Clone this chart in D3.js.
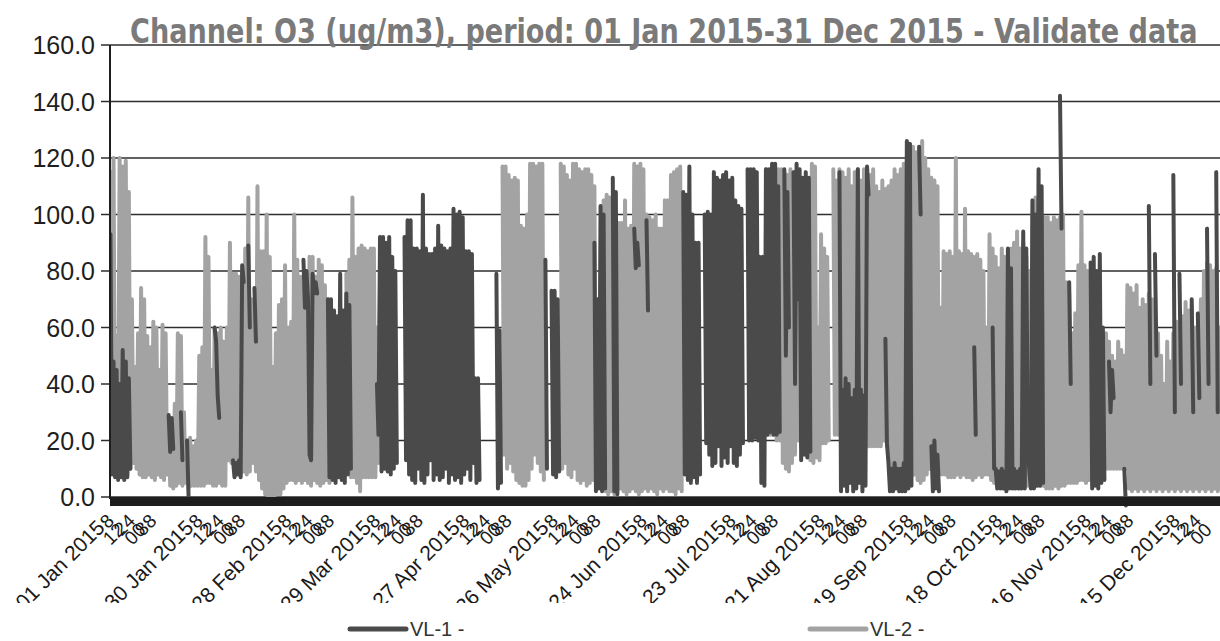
<!DOCTYPE html>
<html><head><meta charset="utf-8">
<script src="https://cdn.jsdelivr.net/npm/d3@7"></script>
<style>body{margin:0;background:#fff} svg{display:block}</style>
</head><body>
<svg id="c" width="1220" height="641"></svg>
<script>
const chartTitle = "Channel: O3 (ug/m3), period: 01 Jan 2015-31 Dec 2015 - Validate data";
const yTicks = [0, 20, 40, 60, 80, 100, 120, 140, 160];
const xTickLabels = ["01 Jan 2015","30 Jan 2015","28 Feb 2015","29 Mar 2015","27 Apr 2015","26 May 2015","24 Jun 2015","23 Jul 2015","21 Aug 2015","19 Sep 2015","18 Oct 2015","16 Nov 2015","15 Dec 2015"];
const subTickLabels = ["8","12","24","00","88"];
const seriesNames = ["VL-1 -", "VL-2 -"];
// [day of year (0 = 01 Jan), daily high, daily low]
const vl1 = [[0,93,8],[1,48,7],[2,45,6],[3,40,7],[4,52,6],[5,48,7],[6,42,10],
[19,29,16],[20,28,17],[23,30,13],[25,20,0],[34,60,55],[35,36,28],
[40,13,7],[41,12,8],[42,13,7],[43,82,76],[45,89,60],[47,74,55],
[63,84,67],[64,80,70],[65,15,13],[66,79,72],[67,76,72],
[71,70,7],[72,70,6],[73,66,5],[74,64,7],[75,79,6],[76,66,5],[77,72,8],[78,68,10],
[87,40,22],[88,92,9],[89,92,10],[90,90,9],[91,92,8],[92,85,10],[93,80,12],
[96,92,13],[97,98,8],[98,98,6],[99,88,5],[100,88,10],[101,87,6],[102,107,5],[103,88,8],[104,86,13],[105,86,6],[106,88,8],[107,96,6],[108,89,7],[109,88,10],[110,87,5],[111,88,8],[112,102,6],[113,100,7],[114,101,5],[115,99,8],[116,87,10],[117,87,6],[118,86,12],[119,42,5],[120,42,6],
[126,79,3],[127,59,5],
[142,84,10],[144,73,8],[145,73,7],[146,70,9],
[158,90,2],[159,70,3],[160,103,2],[161,100,3],
[164,113,2],[165,108,1],
[171,95,81],[172,90,82],[175,98,66],
[187,108,8],[188,107,6],[189,117,5],[190,100,7],[191,90,5],[192,90,8],
[194,100,19],[195,101,15],[196,100,11],[197,115,12],[198,113,18],[199,112,11],[200,114,14],[201,115,12],[202,112,18],[203,113,12],[204,105,11],[205,103,15],[206,102,19],
[208,116,20],[209,116,20],[210,116,21],[211,115,20],[212,85,5],[213,85,4],[214,116,22],[215,116,23],[216,118,22],[217,118,22],[218,110,23],
[220,116,50],[221,108,60],[223,115,40],[224,118,70],[225,116,13],[226,113,15],[227,115,14],[228,113,16],
[238,115,2],[239,38,4],[240,42,2],[241,40,5],[242,35,2],[243,38,3],[244,116,5],[245,38,2],[246,36,4],[247,117,107],
[253,56,19],[254,12,2],[255,10,2],[256,12,3],[257,10,2],[258,10,2],[259,12,2],[260,126,3],[261,125,4],
[264,124,100],[268,18,2],[269,20,3],[270,15,2],
[282,53,22],
[288,60,10],[289,10,3],[290,9,3],[291,10,3],[292,9,2],[293,88,3],[294,81,3],[295,10,3],[296,9,3],[297,10,3],[298,94,3],[299,88,19],[300,9,3],[301,105,3],[302,100,4],[303,116,4],[304,110,5],
[310,142,95],[313,76,40],
[320,83,3],[321,85,4],[322,80,3],[323,86,5],[324,60,6],
[326,48,30],[327,45,35],[331,10,-3],
[339,103,40],[341,86,50],[347,114,30],[349,79,40],[353,70,30],[355,65,35],[358,95,40],[361,115,30]];
const vl2 = [[0,115,12],[1,120,10],[2,57,15],[3,120,9],[4,117,10],[5,119,8],[6,108,10],[7,70,12],[8,46,10],[9,58,8],[10,74,7],[11,70,7],[12,57,8],[13,53,7],[14,62,6],[15,60,8],[16,45,7],[17,61,6],[18,58,8],[19,28,4],[20,25,3],[21,33,4],[22,58,5],[23,57,4],[24,30,5],[25,20,3],[26,21,4],[27,18,4],[28,20,4],[29,50,4],[30,53,4],[31,92,5],[32,85,5],[33,45,4],[34,60,4],[35,58,5],[36,60,4],[37,55,4],[38,60,13],[39,90,12],[40,79,10],[41,79,9],[42,78,8],[43,80,9],[44,88,8],[45,106,9],[46,70,12],[47,65,9],[48,110,6],[49,87,3],[50,87,1],[51,100,0],[52,85,0],[53,46,0],[54,58,1],[55,68,1],[56,70,3],[57,82,5],[58,60,6],[59,62,6],[60,100,5],[61,84,6],[62,78,5],[63,75,6],[64,80,5],[65,85,4],[66,85,6],[67,78,5],[68,84,4],[69,82,5],[70,75,6],[71,70,5],
[77,79,20],[78,84,7],[79,106,7],[80,85,5],[81,88,2],[82,89,7],[83,88,7],[84,87,7],[85,88,7],[86,88,7],[87,60,12],[88,74,16],[89,70,20],
[128,117,15],[129,117,10],[130,114,12],[131,112,9],[132,113,6],[133,112,5],[134,96,4],[135,95,4],[136,100,6],[137,118,10],[138,118,15],[139,117,12],[140,118,9],[141,118,6],
[147,118,10],[148,117,12],[149,114,8],[150,112,7],[151,118,10],[152,118,6],[153,116,5],[154,115,6],[155,116,4],[156,116,5],[157,114,6],[158,110,8],
[161,105,2],[162,107,1],[163,106,2],[164,104,1],[165,100,2],[166,97,3],[167,97,2],[168,105,1],[169,95,2],[170,96,3],[171,118,2],[172,117,1],[173,118,2],[174,116,3],[175,100,2],[176,99,3],[177,98,2],[178,100,1],[179,95,3],[180,95,2],[181,105,3],[182,105,2],[183,114,2],[184,115,1],[185,116,3],[186,117,2],
[214,116,22],[215,115,22],[216,116,22],[217,114,20],[218,116,20],[219,116,12],[220,115,10],[221,114,9],[222,116,12],[223,110,15],[224,115,20],[225,100,18],[226,98,22],[227,95,20],[228,98,13],[229,118,12],[230,117,14],[231,60,13],[232,93,19],[233,88,19],[234,85,20],
[236,116,22],[237,112,22],[238,116,20],[239,115,15],[240,113,10],[241,116,10],[242,110,10],[243,115,10],[244,116,12],[245,112,16],[246,116,18],[247,110,18],[248,114,18],[249,116,18],[250,110,18],[251,108,18],[252,112,20],[253,109,18],
[254,110,8],[255,112,5],[256,116,4],[257,114,5],[258,116,6],[259,118,5],[260,120,6],[261,125,7],[262,124,8],[263,122,6],[264,118,5],[265,126,6],[266,120,8],[267,116,10],[268,113,8],[269,112,6],[270,110,8],[271,67,8],[272,87,8],[273,86,7],[274,87,7],[275,85,7],[276,120,8],[277,87,7],[278,86,8],[279,102,7],[280,87,7],[281,86,6],[282,85,7],[283,86,8],[284,84,7],[285,80,8],[286,60,8],[287,93,6],[288,88,5],[289,85,5],[290,81,4],[291,88,5],[292,85,4],[293,83,5],[294,88,4],[295,90,4],[296,94,3],[297,88,4],[298,90,4],[299,85,4],[300,80,4],[301,100,4],[302,106,4],[303,100,4],[304,98,4],[305,99,3],[306,99,3],[307,97,3],[308,99,4],[309,98,3],[310,99,4],[311,100,4],[312,76,5],[313,72,5],[314,58,5],[315,65,5],[316,82,6],[317,101,6],[318,82,5],[319,80,6],
[325,58,10],[326,55,10],[327,50,10],[328,48,10],[329,55,10],[330,52,10],[331,50,10],[332,75,3],[333,74,2],[334,72,3],[335,75,2],[336,67,3],[337,70,2],[338,68,3],[339,72,2],[340,70,3],[341,65,2],[342,58,3],[343,50,2],[344,40,3],[345,55,2],[346,48,3],[347,58,2],[348,62,3],[349,60,2],[350,64,3],[351,69,2],[352,66,3],[353,68,2],[354,60,3],[355,60,2],[356,70,3],[357,80,2],[358,83,3],[359,82,2],[360,80,3],[361,81,2],[362,60,3],[363,58,3],[364,55,3]];

const colors = ["#4a4a4a", "#a3a3a3"];
const svg = d3.select("#c");
const W = 1220, H = 641;
const mLeft = 110, mRight = 1228, mTop = 45, mBottom = 497;
const t0 = new Date(2015, 0, 1), t1 = new Date(2016, 0, 1);
const x = d3.scaleTime().domain([t0, t1]).range([mLeft, mRight]);
const y = d3.scaleLinear().domain([0, 160]).range([mBottom, mTop]);
const dayToDate = d => new Date(t0.getTime() + d * 864e5);

svg.append("rect").attr("width", W).attr("height", H).attr("fill", "#fff");
const defs = svg.append("defs");
defs.append("clipPath").attr("id", "plotclip").append("rect")
  .attr("x", mLeft).attr("y", 0).attr("width", mRight - mLeft).attr("height", mBottom + 20);
defs.append("clipPath").attr("id", "labclip").append("rect")
  .attr("x", 0).attr("y", 505).attr("width", W).attr("height", 98);

// gridlines
svg.append("g").selectAll("line").data(yTicks).join("line")
  .attr("x1", mLeft - 9).attr("x2", mRight)
  .attr("y1", d => y(d)).attr("y2", d => y(d))
  .attr("stroke", "#2e2e2e").attr("stroke-width", 1.6);

// series
function segments(rows) {
  const segs = []; let cur = [], prev = null;
  rows.forEach(([d, hi, lo]) => {
    if (prev !== null && d - prev > 1) { segs.push(cur); cur = []; }
    cur.push({ t: d + 0.15, v: hi }, { t: d + 0.65, v: lo });
    prev = d;
  });
  if (cur.length) segs.push(cur);
  return segs;
}
const line = d3.line().x(p => x(dayToDate(p.t))).y(p => y(p.v));
const plot = svg.append("g").attr("clip-path", "url(#plotclip)");
[[vl2, colors[1]], [vl1, colors[0]]].forEach(([rows, col]) => {
  plot.append("g").selectAll("path").data(segments(rows)).join("path")
    .attr("d", line).attr("fill", "none").attr("stroke", col)
    .attr("stroke-width", 4).attr("stroke-linejoin", "round").attr("stroke-linecap", "round");
});

// thick x axis bar
svg.append("rect").attr("x", mLeft).attr("y", y(0)).attr("width", mRight - mLeft).attr("height", 9).attr("fill", "#1e1e1e");
// y axis
svg.append("line").attr("x1", mLeft).attr("x2", mLeft).attr("y1", y(160)).attr("y2", y(0) + 2)
  .attr("stroke", "#1e1e1e").attr("stroke-width", 2);
svg.append("g").selectAll("text").data(yTicks).join("text")
  .attr("x", 95).attr("y", d => y(d) + 9).attr("text-anchor", "end")
  .attr("font-family", "Liberation Sans, Arial, sans-serif").attr("font-size", 25)
  .attr("fill", "#1f1f1f").text(d => d.toFixed(1));

// x labels
const parse = d3.timeParse("%d %b %Y");
const labG = svg.append("g").attr("clip-path", "url(#labclip)")
  .attr("font-family", "Liberation Sans, Arial, sans-serif").attr("fill", "#1a1a1a");
const ly = 529;
const subFrac = [0.08, 0.2, 0.32, 0.44, 0.56];
xTickLabels.forEach((lab, k) => {
  const td = parse(lab);
  const px = x(td);
  labG.append("text").attr("transform", `translate(${px - 4},${ly}) rotate(-45)`)
    .attr("text-anchor", "end").attr("font-size", 21).text(lab);
  subTickLabels.forEach((s, j) => {
    const sd = new Date(td.getTime() + subFrac[j] * 29 * 864e5);
    const sx = x(sd);
    if (sx - 2 > W - 4) return;
    labG.append("text").attr("transform", `translate(${sx - 2},${522 + (j % 2) * 9}) rotate(-45)`)
      .attr("text-anchor", "end").attr("font-size", 19).text(s);
  });
});

// legend
const legX = [350, 810];
seriesNames.forEach((n, i) => {
  svg.append("line").attr("x1", legX[i]).attr("x2", legX[i] + 56).attr("y1", 629).attr("y2", 629)
    .attr("stroke", colors[i]).attr("stroke-width", 5).attr("stroke-linecap", "round");
  svg.append("text").attr("x", legX[i] + 60).attr("y", 636)
    .attr("font-family", "Liberation Sans, Arial, sans-serif").attr("font-size", 20)
    .attr("fill", "#333").text(n);
});

// title (scaled horizontally to the reference width)
const titleT = svg.append("text").attr("x", 0).attr("y", 0)
  .attr("font-family", "DejaVu Sans Condensed, DejaVu Sans, sans-serif").attr("font-weight", "bold")
  .attr("font-size", 34).attr("fill", "#7a7a7a")
  .text(chartTitle);
const natW = titleT.node().getComputedTextLength();
titleT.attr("transform", `translate(130,43) scale(${1068 / natW},1)`);
</script>
</body></html>
